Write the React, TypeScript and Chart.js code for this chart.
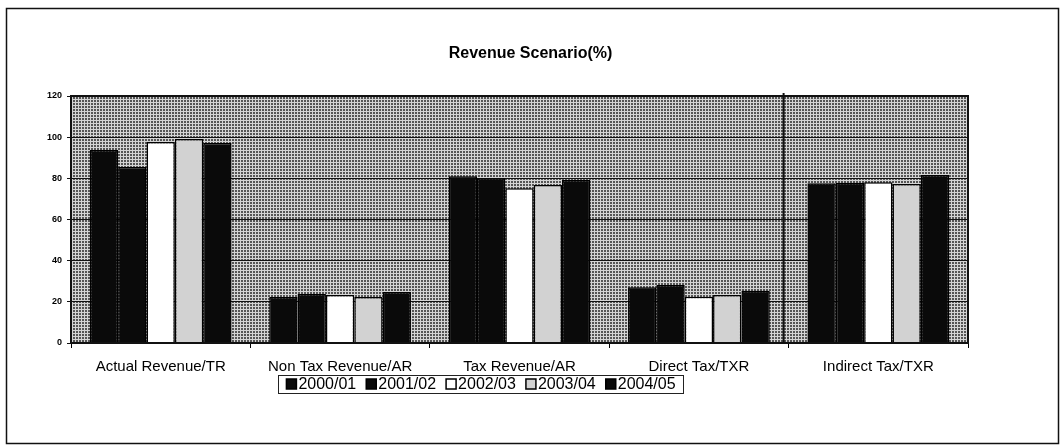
import React, { useEffect, useRef } from "react";
import { Chart, registerables } from "chart.js";

Chart.register(...registerables);

const chartTitle = "Revenue Scenario(%)";
const categories = [
  "Actual Revenue/TR",
  "Non Tax Revenue/AR",
  "Tax Revenue/AR",
  "Direct Tax/TXR",
  "Indirect Tax/TXR",
];
const seriesLabels = ["2000/01", "2001/02", "2002/03", "2003/04", "2004/05"];
const values2000 = [93.8, 22.4, 81, 27.1, 77.6];
const values2001 = [85.5, 23.8, 80, 28.2, 77.8];
const values2002 = [97.7, 23.3, 75.2, 22.5, 78.1];
const values2003 = [99.1, 22.4, 76.8, 23.3, 77.3];
const values2004 = [97.2, 24.8, 79.2, 25.4, 81.6];
const yTicks = [0, 20, 40, 60, 80, 100, 120];

const seriesValues = [values2000, values2001, values2002, values2003, values2004];
const seriesFill = ["#0a0a0a", "#0a0a0a", "#ffffff", "#d2d2d2", "#0a0a0a"];

function makePattern(): CanvasPattern | string {
  const c = document.createElement("canvas");
  c.width = 3;
  c.height = 3;
  const g = c.getContext("2d");
  if (!g) return "#999";
  g.fillStyle = "#555555";
  g.fillRect(0, 0, 3, 3);
  g.fillStyle = "#d4d4d4";
  g.fillRect(0, 0, 3, 1);
  g.fillRect(0, 0, 1, 3);
  const p = g.createPattern(c, "repeat");
  return p || "#999";
}

const decorPlugin = {
  id: "decor",
  beforeDraw(chart: any) {
    const { ctx, chartArea } = chart;
    ctx.save();
    ctx.fillStyle = "#ffffff";
    ctx.fillRect(0, 0, chart.width, chart.height);
    ctx.fillStyle = makePattern();
    ctx.fillRect(chartArea.left, chartArea.top, chartArea.right - chartArea.left, chartArea.bottom - chartArea.top);
    ctx.restore();
  },
  afterDraw(chart: any) {
    const { ctx, chartArea } = chart;
    const x = chart.scales.x;
    ctx.save();
    // outer border
    ctx.strokeStyle = "#111";
    ctx.lineWidth = 1.5;
    ctx.strokeRect(6.5, 8.5, 1052, 435);
    // plot border
    ctx.lineWidth = 2;
    ctx.strokeRect(chartArea.left, chartArea.top, chartArea.right - chartArea.left, chartArea.bottom - chartArea.top);
    // vertical divider line
    const xv = (x.getPixelForValue(3) + x.getPixelForValue(4)) / 2 - 5;
    ctx.beginPath();
    ctx.moveTo(xv, chartArea.top - 3);
    ctx.lineTo(xv, chartArea.bottom);
    ctx.lineWidth = 2;
    ctx.stroke();
    // title
    ctx.fillStyle = "#000";
    ctx.font = "bold 16px 'Liberation Sans', Arial, sans-serif";
    ctx.textAlign = "center";
    ctx.textBaseline = "middle";
    ctx.fillText(chartTitle, chart.width / 2, 54);
    // legend
    ctx.font = "16px 'Liberation Sans', Arial, sans-serif";
    ctx.textAlign = "left";
    const box = 10;
    const gapMT = 2;
    const gapItems = 10;
    const widths = seriesLabels.map((l) => box + gapMT + ctx.measureText(l).width);
    const total = widths.reduce((a, b) => a + b, 0) + gapItems * (widths.length - 1);
    const cx = 481;
    const padX = 8;
    const ly = 384;
    ctx.lineWidth = 1;
    ctx.strokeStyle = "#222";
    ctx.strokeRect(Math.round(cx - total / 2 - padX) + 0.5, 375.5, Math.round(total + 2 * padX), 18);
    let px = cx - total / 2;
    seriesLabels.forEach((l, i) => {
      ctx.fillStyle = seriesFill[i];
      ctx.fillRect(px, ly - box / 2, box, box);
      ctx.strokeStyle = "#000";
      ctx.lineWidth = 1.5;
      ctx.strokeRect(px, ly - box / 2, box, box);
      ctx.fillStyle = "#000";
      ctx.fillText(l, px + box + gapMT, ly + 1);
      px += widths[i] + gapItems;
    });
    ctx.restore();
  },
};

export default function App() {
  const ref = useRef<HTMLCanvasElement | null>(null);
  useEffect(() => {
    if (!ref.current) return;
    const chart = new Chart(ref.current, {
      type: "bar",
      data: {
        labels: categories,
        datasets: seriesLabels.map((label, i) => ({
          label,
          data: seriesValues[i],
          backgroundColor: seriesFill[i],
          borderColor: "#000",
          borderWidth: 1.5,
          categoryPercentage: 0.79,
          barPercentage: 1.0,
        })),
      },
      options: {
        animation: false,
        responsive: false,
        maintainAspectRatio: false,
        layout: { padding: { left: 31, right: 93, top: 96, bottom: 62 } },
        plugins: {
          legend: { display: false },
          title: { display: false },
          tooltip: { enabled: false },
        },
        scales: {
          x: {
            offset: true,
            grid: {
              offset: true,
              drawOnChartArea: false,
              drawTicks: true,
              tickLength: 5,
              color: "#000",
            },
            border: { display: true, color: "#000", width: 2 },
            ticks: {
              color: "#000",
              padding: 10,
              maxRotation: 0,
              autoSkip: false,
              font: { family: "'Liberation Sans', Arial, sans-serif", size: 15 },
            },
            afterFit(scale: any) {
              scale.height = 40;
            },
          },
          y: {
            min: 0,
            max: 120,
            afterBuildTicks(scale: any) {
              scale.ticks = yTicks.map((v) => ({ value: v }));
            },
            grid: {
              color: "#111",
              lineWidth: 1,
              drawTicks: true,
              tickLength: 4,
            },
            border: { display: true, color: "#000", width: 2 },
            ticks: {
              color: "#000",
              padding: 5,
              font: { family: "'Liberation Sans', Arial, sans-serif", size: 9, weight: "bold" },
            },
            afterFit(scale: any) {
              scale.width = 40;
            },
          },
        },
      },
      plugins: [decorPlugin],
    });
    return () => chart.destroy();
  }, []);
  return (
    <div style={{ position: "absolute", left: 0, top: 0, width: 1061, height: 445, background: "#fff" }}>
      <canvas ref={ref} width={1061} height={445} style={{ display: "block", width: 1061, height: 445 }} />
    </div>
  );
}
